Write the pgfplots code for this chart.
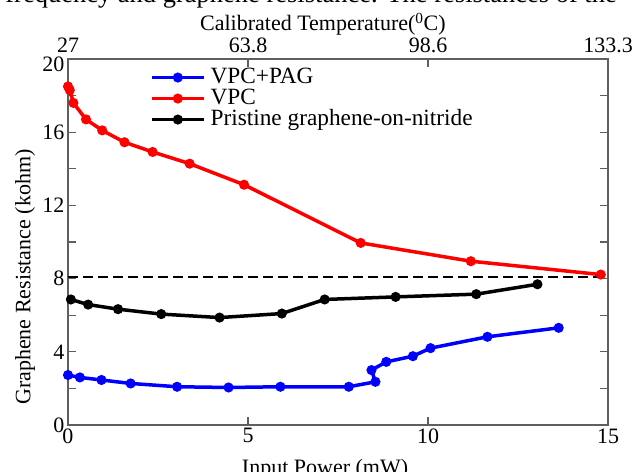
\documentclass[border=0pt]{standalone}
\usepackage{fontspec}
\setmainfont{Liberation Serif}
\usepackage{pgfplots}
\pgfplotsset{compat=1.18}

\definecolor{axgray}{RGB}{95,95,95}
\newcommand{\bigfont}{\fontsize{22bp}{25bp}\selectfont}

\pgfplotsset{
  frame/.style={
    width=540bp, height=366bp, scale only axis,
    at={(68bp,47bp)}, anchor=south west,
    xmin=0, xmax=15, ymin=0, ymax=20,
    axis line style={axgray, line width=1.3bp},
    major tick style={axgray, line width=1.1bp},
    major tick length=8bp,
    tick align=inside,
    /pgf/number format/assume math mode=true,
    ticklabel style={font=\bigfont},
    label style={font=\bigfont},
    xtick={0,5,10,15},
  },
  curve/.style={line width=3.5bp, mark=*, mark size=3.2bp},
}

\begin{document}
\begin{tikzpicture}
% top axis: temperature scale
\begin{axis}[frame,
  axis x line*=top, axis y line=none,
  xticklabels={27,63.8,98.6,133.3},
  xticklabel style={yshift=3bp},
  xlabel={Calibrated Temperature(\textsuperscript{0}C)},
  xlabel style={at={(axis description cs:0.472,1.077)}, anchor=base},
]
  \addplot[draw=none, forget plot] coordinates {(0,0) (15,20)};
\end{axis}

% main axis
\begin{axis}[frame,
  ytick={0,2,...,20},
  yticklabels={0,,4,,8,,12,,16,,\smash{\raisebox{-13bp}{20}}},
  xlabel={Input Power (mW)},
  xlabel style={at={(axis description cs:0.476,-0.134)}, anchor=base},
  ylabel={Graphene Resistance (kohm)},
  ylabel style={at={(axis description cs:-0.0796,0.404)}, anchor=center},
  legend style={at={(axis description cs:0.152,0.978)}, anchor=north west,
    draw=none, fill=none, font=\fontsize{23.3bp}{26bp}\selectfont,
    inner sep=0pt, outer sep=0pt, row sep=0pt, column sep=5bp,
    nodes={inner sep=0pt, text height=16bp, text depth=5bp}},
  legend cell align=left,
  legend image code/.code={
    \draw[mark repeat=2, mark phase=2, #1] plot coordinates {(0bp,0bp) (26bp,0bp) (52bp,0bp)};
  },
]
  \addplot[black, line width=2.3bp, dash pattern=on 10bp off 5bp, forget plot]
    coordinates {(0,8.1) (15,8.1)};

  \addplot[curve, blue] coordinates {
    (0.0,2.73) (0.33,2.6) (0.93,2.46) (1.74,2.27) (3.03,2.09) (4.46,2.05)
    (5.9,2.09) (7.8,2.09) (8.54,2.36) (8.43,3.0) (8.84,3.45) (9.58,3.76)
    (10.07,4.2) (11.65,4.82) (13.63,5.31)
  };
  \addlegendentry{VPC+PAG}

  \addplot[curve, red] coordinates {
    (0.0,18.5) (0.05,18.3) (0.15,17.6) (0.5,16.7) (0.95,16.1) (1.57,15.45)
    (2.35,14.92) (3.38,14.28) (4.89,13.13) (8.13,9.95) (11.19,8.95) (14.8,8.22)
  };
  \addlegendentry{VPC}

  \addplot[curve, black] coordinates {
    (0.08,6.86) (0.56,6.58) (1.39,6.33) (2.59,6.06) (4.21,5.87) (5.94,6.09)
    (7.13,6.86) (9.1,7.0) (11.34,7.15) (13.04,7.69)
  };
  \addlegendentry{Pristine graphene-on-nitride}
\end{axis}

% caption line of the page, cut by the top edge
\node[anchor=base east, font=\fontsize{26.5bp}{30bp}\selectfont, inner sep=0pt]
  at (617bp,469bp) {frequency and graphene resistance. The resistances of the};

\pgfresetboundingbox
\useasboundingbox (0,0) rectangle (633bp,472bp);
\end{tikzpicture}
\end{document}
